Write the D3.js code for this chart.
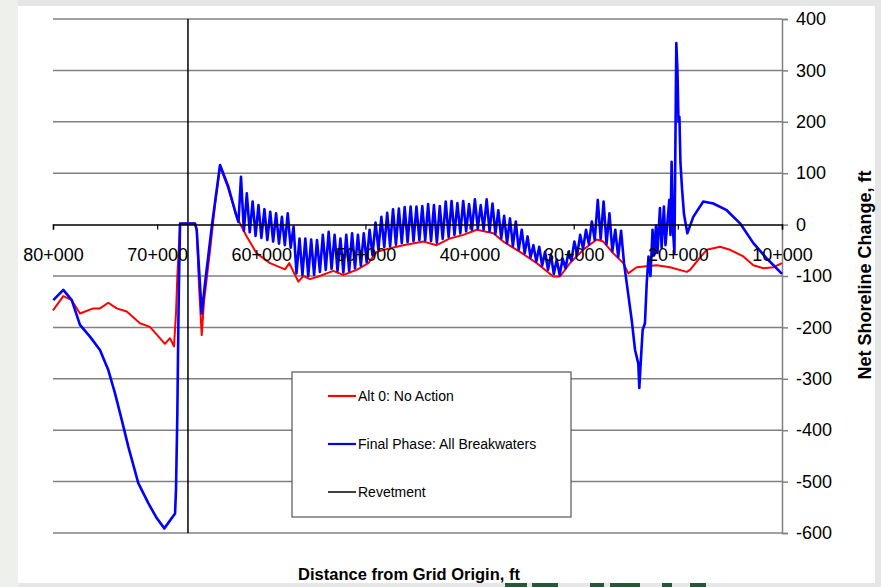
<!DOCTYPE html>
<html><head><meta charset="utf-8">
<script src="https://cdn.jsdelivr.net/npm/d3@7"></script>
<style>body{margin:0;background:#e4e7e6;} svg{display:block}</style>
</head><body><svg id="c" width="881" height="587"></svg>
<script>
// ---- data (x in thousands of ft from grid origin, y in ft) ----
const xTicks = [80, 70, 60, 50, 40, 30, 20, 10];
const yTicks = [400, 300, 200, 100, 0, -100, -200, -300, -400, -500, -600];

const redX = [80.00,79.01,78.20,77.41,76.13,75.49,74.69,73.88,72.92,71.65,70.69,69.25,68.77,68.38,68.19,68.06,67.80,66.36,66.20,65.98,65.72,65.50,64.92,64.44,63.96,63.20,62.84,62.43,62.04,61.40,60.44,59.16,57.72,57.31,56.76,56.44,55.96,55.32,54.52,53.08,52.12,50.84,49.72,48.92,47.64,46.36,44.44,43.16,41.88,40.60,39.31,37.72,36.76,35.16,33.55,31.96,31.32,30.36,29.08,27.79,27.16,26.20,25.24,24.76,23.95,22.03,20.75,19.15,18.83,17.87,17.23,15.95,14.99,13.71,12.75,11.79,10.83,10.00];
const redY = [-167,-139,-147,-173,-163,-163,-152,-163,-169,-192,-199,-232,-221,-237,-172,-100,2,2,-10,-120,-215,-150,-50,40,113,72,48,20,2,-23,-56,-75,-87,-75,-98,-111,-100,-106,-101,-90,-98,-88,-75,-53,-46,-40,-33,-40,-27,-20,-10,-17,-33,-53,-75,-101,-101,-75,-49,-29,-33,-56,-75,-95,-83,-79,-83,-92,-88,-64,-49,-43,-49,-62,-79,-85,-83,-75];

const bluePreX = [79.97,79.01,78.20,77.41,76.45,75.49,74.69,74.05,73.40,72.77,71.81,70.85,70.04,69.31,68.28,68.19,68.06,67.97,67.90,67.80,66.36,66.20,65.82,65.72,65.40,64.73,63.96,63.17,62.36,62.19];
const bluePreY = [-147,-127,-147,-195,-218,-244,-283,-328,-380,-432,-503,-542,-571,-591,-562,-516,-367,-205,-108,2,2,-10,-140,-173,-114,0,116,74,15,5];

// breakwater section: crests and troughs of the blue line
const crestX = [61.95,61.39,60.83,60.27,59.70,59.14,58.58,58.02,57.46,56.90,56.33,55.77,55.21,54.65,54.09,53.53,52.96,52.40,51.84,51.28,50.72,50.16,49.60,49.03,48.47,47.91,47.35,46.79,46.23,45.66,45.10,44.54,43.98,43.42,42.86,42.29,41.73,41.17,40.61,40.05,39.49,38.93,38.36,37.80,37.24,36.68,36.12,35.56,34.99,34.43,33.87,33.31,32.75,32.19,31.63,31.06,30.50,29.94,29.38,28.82,28.26,27.69,27.13,26.57,26.01,25.45];
const crestY = [93,61,45,38,30,25,22,15,22,-4,-27,-27,-29,-30,-20,-14,-20,-27,-20,-17,-20,-17,-10,4,15,23,30,31,34,35,35,36,40,38,36,45,46,42,46,40,49,38,49,41,28,17,12,6,-10,-23,-40,-43,-53,-59,-68,-66,-53,-33,-20,-10,6,48,45,22,-10,-12];
const troughX = [61.67,61.11,60.55,59.99,59.42,58.86,58.30,57.74,57.18,56.62,56.05,55.49,54.93,54.37,53.81,53.25,52.68,52.12,51.56,51.00,50.44,49.88,49.32,48.75,48.19,47.63,47.07,46.51,45.95,45.38,44.82,44.26,43.70,43.14,42.58,42.01,41.45,40.89,40.33,39.77,39.21,38.65,38.08,37.52,36.96,36.40,35.84,35.28,34.71,34.15,33.59,33.03,32.47,31.91,31.35,30.78,30.22,29.66,29.10,28.54,27.98,27.41,26.85,26.29,25.73,25.17];
const troughY = [-12,-15,-22,-26,-30,-33,-37,-40,-45,-95,-98,-100,-98,-92,-88,-86,-90,-93,-90,-85,-80,-73,-60,-48,-44,-42,-39,-36,-34,-32,-30,-30,-32,-35,-28,-24,-20,-17,-13,-10,-8,-10,-13,-18,-27,-36,-42,-49,-56,-64,-72,-80,-88,-96,-98,-85,-70,-58,-47,-38,-30,-28,-38,-52,-63,-75];

const bluePostX = [24.91,24.43,24.11,23.80,23.70,23.57,23.38,23.16,22.99,22.82,22.63,22.43,22.29,22.10,21.96,21.72,21.56,21.34,21.19,20.82,20.71,20.60,20.47,20.33,20.15,20.04,19.94,19.85,19.75,19.60,19.41,19.09,18.52,17.56,16.60,15.31,14.03,12.75,11.46,10.00];
const bluePostY = [-114,-186,-244,-270,-318,-270,-205,-192,-114,-62,-100,-10,-60,-2,-55,32,-45,35,-40,48,-20,122,-10,-55,353,300,200,210,120,70,20,-17,15,45,41,28,2.5,-36,-66,-96];

const revetmentX = [67.04, 67.04];
const revetmentY = [400, -600];

const seriesNames = ["Alt 0: No Action", "Final Phase: All Breakwaters", "Revetment"];
const seriesColors = ["#ff0000", "#0000ff", "#000000"];

// ---- build ----
const svg = d3.select("#c");
const FONT = "Arial, 'Liberation Sans', sans-serif";

// background panel
svg.append("rect").attr("x", 0).attr("y", 0).attr("width", 18).attr("height", 587).attr("fill", "#eef0ec");
svg.append("rect").attr("x", 18).attr("y", 6).attr("width", 857).attr("height", 577).attr("fill", "#ffffff");
const deco = [[505, 22], [532, 26], [590, 14], [610, 30], [662, 10], [690, 16]];
svg.selectAll("rect.deco").data(deco).join("rect").attr("class", "deco")
  .attr("x", d => d[0]).attr("y", 583).attr("width", d => d[1]).attr("height", 4).attr("fill", "#1f5b35");

const x = d3.scaleLinear().domain([80, 10]).range([53, 782]);
const y = d3.scaleLinear().domain([-600, 400]).range([533, 19]);

// gridlines
svg.append("g").selectAll("line").data(yTicks.filter(v => v !== 0)).join("line")
  .attr("x1", x(80)).attr("x2", x(10)).attr("y1", d => y(d)).attr("y2", d => y(d))
  .attr("stroke", "#808080").attr("stroke-width", 1.5);

// right axis
const yAxis = d3.axisRight(y).tickValues(yTicks).tickSize(6).tickPadding(8).tickFormat(d => String(d));
const gy = svg.append("g").attr("transform", `translate(${x(10)},0)`).call(yAxis);
gy.select(".domain").attr("stroke", "#808080").attr("stroke-width", 1.5);
gy.selectAll(".tick line").attr("stroke", "#808080").attr("stroke-width", 1.5);
gy.selectAll("text").attr("font-family", FONT).attr("font-size", 18).attr("fill", "#000");

// series
const line = d3.line().x(d => x(d[0])).y(d => y(d[1]));
const redPts = redX.map((v, i) => [v, redY[i]]);
const bluePts = bluePreX.map((v, i) => [v, bluePreY[i]]);
crestX.forEach((v, i) => { bluePts.push([v, crestY[i]]); bluePts.push([troughX[i], troughY[i]]); });
bluePostX.forEach((v, i) => bluePts.push([v, bluePostY[i]]));
const revPts = revetmentX.map((v, i) => [v, revetmentY[i]]);

svg.append("path").attr("d", line(revPts)).attr("stroke", seriesColors[2]).attr("stroke-width", 1.5).attr("fill", "none");
svg.append("path").attr("d", line(redPts)).attr("stroke", seriesColors[0]).attr("stroke-width", 2).attr("fill", "none").attr("stroke-linejoin", "round");
svg.append("path").attr("d", line(bluePts)).attr("stroke", seriesColors[1]).attr("stroke-width", 2.6).attr("fill", "none").attr("stroke-linejoin", "round");

// x axis at y = 0
const xAxis = d3.axisBottom(x).tickValues(xTicks).tickSize(5).tickPadding(19).tickFormat(d => d + "+000");
const gx = svg.append("g").attr("transform", `translate(0,${y(0)})`).call(xAxis);
gx.select(".domain").attr("stroke", "#000").attr("stroke-width", 1.5);
gx.selectAll(".tick line").attr("stroke", "#000").attr("stroke-width", 1.2);
gx.selectAll("text").attr("font-family", FONT).attr("font-size", 18).attr("fill", "#000");

// titles
svg.append("text").attr("x", 409).attr("y", 580).attr("text-anchor", "middle")
  .attr("font-family", FONT).attr("font-weight", "bold").attr("font-size", 16.5).text("Distance from Grid Origin, ft");
svg.append("text").attr("transform", "translate(871,275) rotate(-90)").attr("text-anchor", "middle")
  .attr("font-family", FONT).attr("font-weight", "bold").attr("font-size", 18).text("Net Shoreline Change, ft");

// legend
const lg = svg.append("g");
lg.append("rect").attr("x", 292).attr("y", 372).attr("width", 279).attr("height", 145)
  .attr("fill", "#fff").attr("stroke", "#555").attr("stroke-width", 1.2);
const rows = lg.selectAll("g.row").data(seriesNames).join("g").attr("class", "row")
  .attr("transform", (d, i) => `translate(0,${396 + i * 48})`);
rows.append("line").attr("x1", 328).attr("x2", 356).attr("y1", 0).attr("y2", 0)
  .attr("stroke", (d, i) => seriesColors[i]).attr("stroke-width", (d, i) => i === 2 ? 1.5 : 2.2);
rows.append("text").attr("x", 358).attr("y", 5).attr("font-family", FONT).attr("font-size", 14).text(d => d);
</script></body></html>
